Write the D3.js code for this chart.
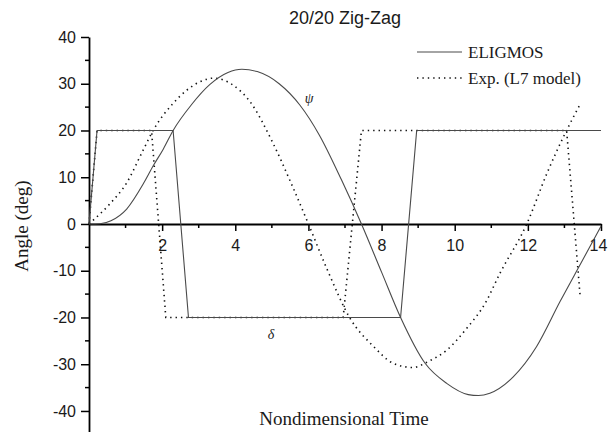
<!DOCTYPE html>
<html lang="en">
<head>
<meta charset="utf-8">
<title>20/20 Zig-Zag</title>
<script src="https://cdn.jsdelivr.net/npm/d3@7"></script>
<style>
	body{ margin:0; background:#fff; }
	.tick text{ font-family:"Liberation Sans", Arial, sans-serif; font-size:16px; fill:#1a1a1a; }
	.serif{ font-family:"Liberation Serif", "Times New Roman", serif; fill:#1a1a1a; }
</style>
</head>
<body>
<script>
// ticks
var timeMajor = [2, 4, 6, 8, 10, 12, 14];
var timeMinor = [1, 3, 5, 7, 9, 11, 13];
var angleMajor = [-40, -30, -20, -10, 0, 10, 20, 30, 40];
var angleMinor = [-35, -25, -15, -5, 5, 15, 25, 35];

// ELIGMOS heading (psi)
var elPsiT = [0, 0.3, 0.6, 1.03, 1.5, 1.76, 2.03, 2.3, 2.8, 3.3, 3.8, 4.18, 4.6, 5.2, 5.77, 6.3, 6.9, 7.45, 8.0, 8.52, 9.19, 9.78, 10.37, 10.65, 10.96, 11.6, 12.24, 12.88, 13.45, 14];
var elPsi  = [0, 0.05, 0.7, 3.2, 8.8, 12.5, 16, 20, 25.5, 29.8, 32.4, 33.1, 32.6, 30, 25.4, 19, 9.5, 0, -10.3, -20, -29.8, -34.1, -36.5, -36.7, -36.2, -32.7, -26.2, -16.6, -8.4, -0.5];
// ELIGMOS rudder (delta)
var elDeltaT = [0, 0.22, 2.3, 2.72, 8.52, 8.96, 14];
var elDelta  = [0, 20, 20, -20, -20, 20, 20];

// Exp. (L7 model) heading
var exPsiT = [0, 0.1, 0.57, 1.03, 1.48, 1.76, 2.3, 3.03, 3.4, 3.94, 4.4, 5.03, 5.5, 6.0, 6.5, 7.14, 7.78, 8.32, 8.86, 9.28, 9.78, 10.33, 10.83, 11.24, 11.97, 12.52, 13.02, 13.43];
var exPsi  = [0, 0.7, 4.3, 8.8, 15.8, 20.1, 25.8, 30.4, 31.2, 29.7, 26.2, 17.3, 9.2, 0, -9.5, -20.2, -26.2, -29.8, -30.7, -29.4, -27, -22.3, -17, -10.5, 0, 10.8, 19.4, 25.6];
// Exp. rudder
var exDeltaT = [0, 0.22, 1.71, 2.1, 6.95, 7.45, 13.06, 13.43];
var exDelta  = [0, 20, 20, -20, -20, 20, 20, -15.5];

var w = 608;
var h = 432;

var svg = d3.select("body")
	.append("svg")
	.attr("width", w)
	.attr("height", h);

var x = d3.scaleLinear().domain([0, 14]).range([89, 601]);
var y = d3.scaleLinear().domain([-44.5, 40]).range([432, 37]);

// plain hyphen for negatives, like the original
var plain = function(d){ return String(d); };

// x axis on y = 0
var xAxis = svg.append("g")
	.attr("transform", "translate(0," + y(0) + ")");
xAxis.call(d3.axisBottom(x).tickValues(timeMajor).tickFormat(plain).tickSize(7).tickPadding(6).tickSizeOuter(0));
xAxis.append("g").selectAll("line")
	.data(timeMinor)
	.enter()
	.append("line")
	.attr("x1", function(d){ return x(d); })
	.attr("x2", function(d){ return x(d); })
	.attr("y1", 0)
	.attr("y2", 4)
	.attr("stroke", "#000")
	.attr("stroke-width", 1.5);

// y axis
var yAxis = svg.append("g")
	.attr("transform", "translate(" + x(0) + ",0)");
yAxis.call(d3.axisLeft(y).tickValues(angleMajor).tickFormat(plain).tickSize(8).tickPadding(5).tickSizeOuter(0));
yAxis.append("g").selectAll("line")
	.data(angleMinor)
	.enter()
	.append("line")
	.attr("x1", 0)
	.attr("x2", -4)
	.attr("y1", function(d){ return y(d); })
	.attr("y2", function(d){ return y(d); })
	.attr("stroke", "#000")
	.attr("stroke-width", 1.5);

svg.selectAll(".domain").attr("stroke", "#000").attr("stroke-width", 1.8);
svg.selectAll(".tick line").attr("stroke", "#000").attr("stroke-width", 1.5);
xAxis.selectAll(".tick text").attr("dy", "0.9em");
// last label sits on the right edge; nudge it so it stays inside
xAxis.selectAll(".tick text")
	.filter(function(d){ return d === 14; })
	.attr("dx", -3);

// lines
var psiLine = d3.line()
	.x(function(d){ return x(d[0]); })
	.y(function(d){ return y(d[1]); })
	.curve(d3.curveMonotoneX);
var stepLine = d3.line()
	.x(function(d){ return x(d[0]); })
	.y(function(d){ return y(d[1]); });

function pairs(t, v){
	return t.map(function(d, i){ return [d, v[i]]; });
}

var solid = { stroke: "#4a4a4a", "stroke-width": 1.1, fill: "none" };
var dotted = { stroke: "#111", "stroke-width": 1.6, fill: "none", "stroke-dasharray": "1.4,4", "stroke-linecap": "butt" };

function applyStyle(sel, params){
	for(var key in params){
		sel.attr(key, params[key]);
	}
	return sel;
}

applyStyle(svg.append("path").attr("d", stepLine(pairs(exDeltaT, exDelta))), dotted);
applyStyle(svg.append("path").attr("d", psiLine(pairs(exPsiT, exPsi))), dotted);
applyStyle(svg.append("path").attr("d", stepLine(pairs(elDeltaT, elDelta))), solid);
applyStyle(svg.append("path").attr("d", psiLine(pairs(elPsiT, elPsi))), solid);

// curve labels
svg.append("text").attr("class", "serif")
	.attr("x", 309).attr("y", 103)
	.attr("text-anchor", "middle")
	.attr("font-style", "italic")
	.attr("font-size", "14px")
	.text("ψ");
svg.append("text").attr("class", "serif")
	.attr("x", 271).attr("y", 339)
	.attr("text-anchor", "middle")
	.attr("font-style", "italic")
	.attr("font-size", "14px")
	.text("δ");

// title
svg.append("text")
	.attr("x", 345).attr("y", 24)
	.attr("text-anchor", "middle")
	.attr("font-family", "'Liberation Sans', Arial, sans-serif")
	.attr("font-size", "18px")
	.attr("fill", "#1a1a1a")
	.text("20/20 Zig-Zag");

// axis titles
svg.append("text").attr("class", "serif")
	.attr("transform", "translate(28,226) rotate(-90)")
	.attr("text-anchor", "middle")
	.attr("font-size", "19px")
	.text("Angle (deg)");
svg.append("text").attr("class", "serif")
	.attr("x", 344).attr("y", 425)
	.attr("text-anchor", "middle")
	.attr("font-size", "19px")
	.text("Nondimensional Time");

// legend
var legend = [
	{ name: "ELIGMOS", style: solid, y: 52 },
	{ name: "Exp. (L7 model)", style: dotted, y: 78 }
];
legend.forEach(function(d){
	applyStyle(svg.append("line")
		.attr("x1", 417).attr("x2", 462)
		.attr("y1", d.y).attr("y2", d.y), d.style);
	svg.append("text").attr("class", "serif")
		.attr("x", 468).attr("y", d.y + 6)
		.attr("font-size", "17px")
		.text(d.name);
});
</script>
</body>
</html>
